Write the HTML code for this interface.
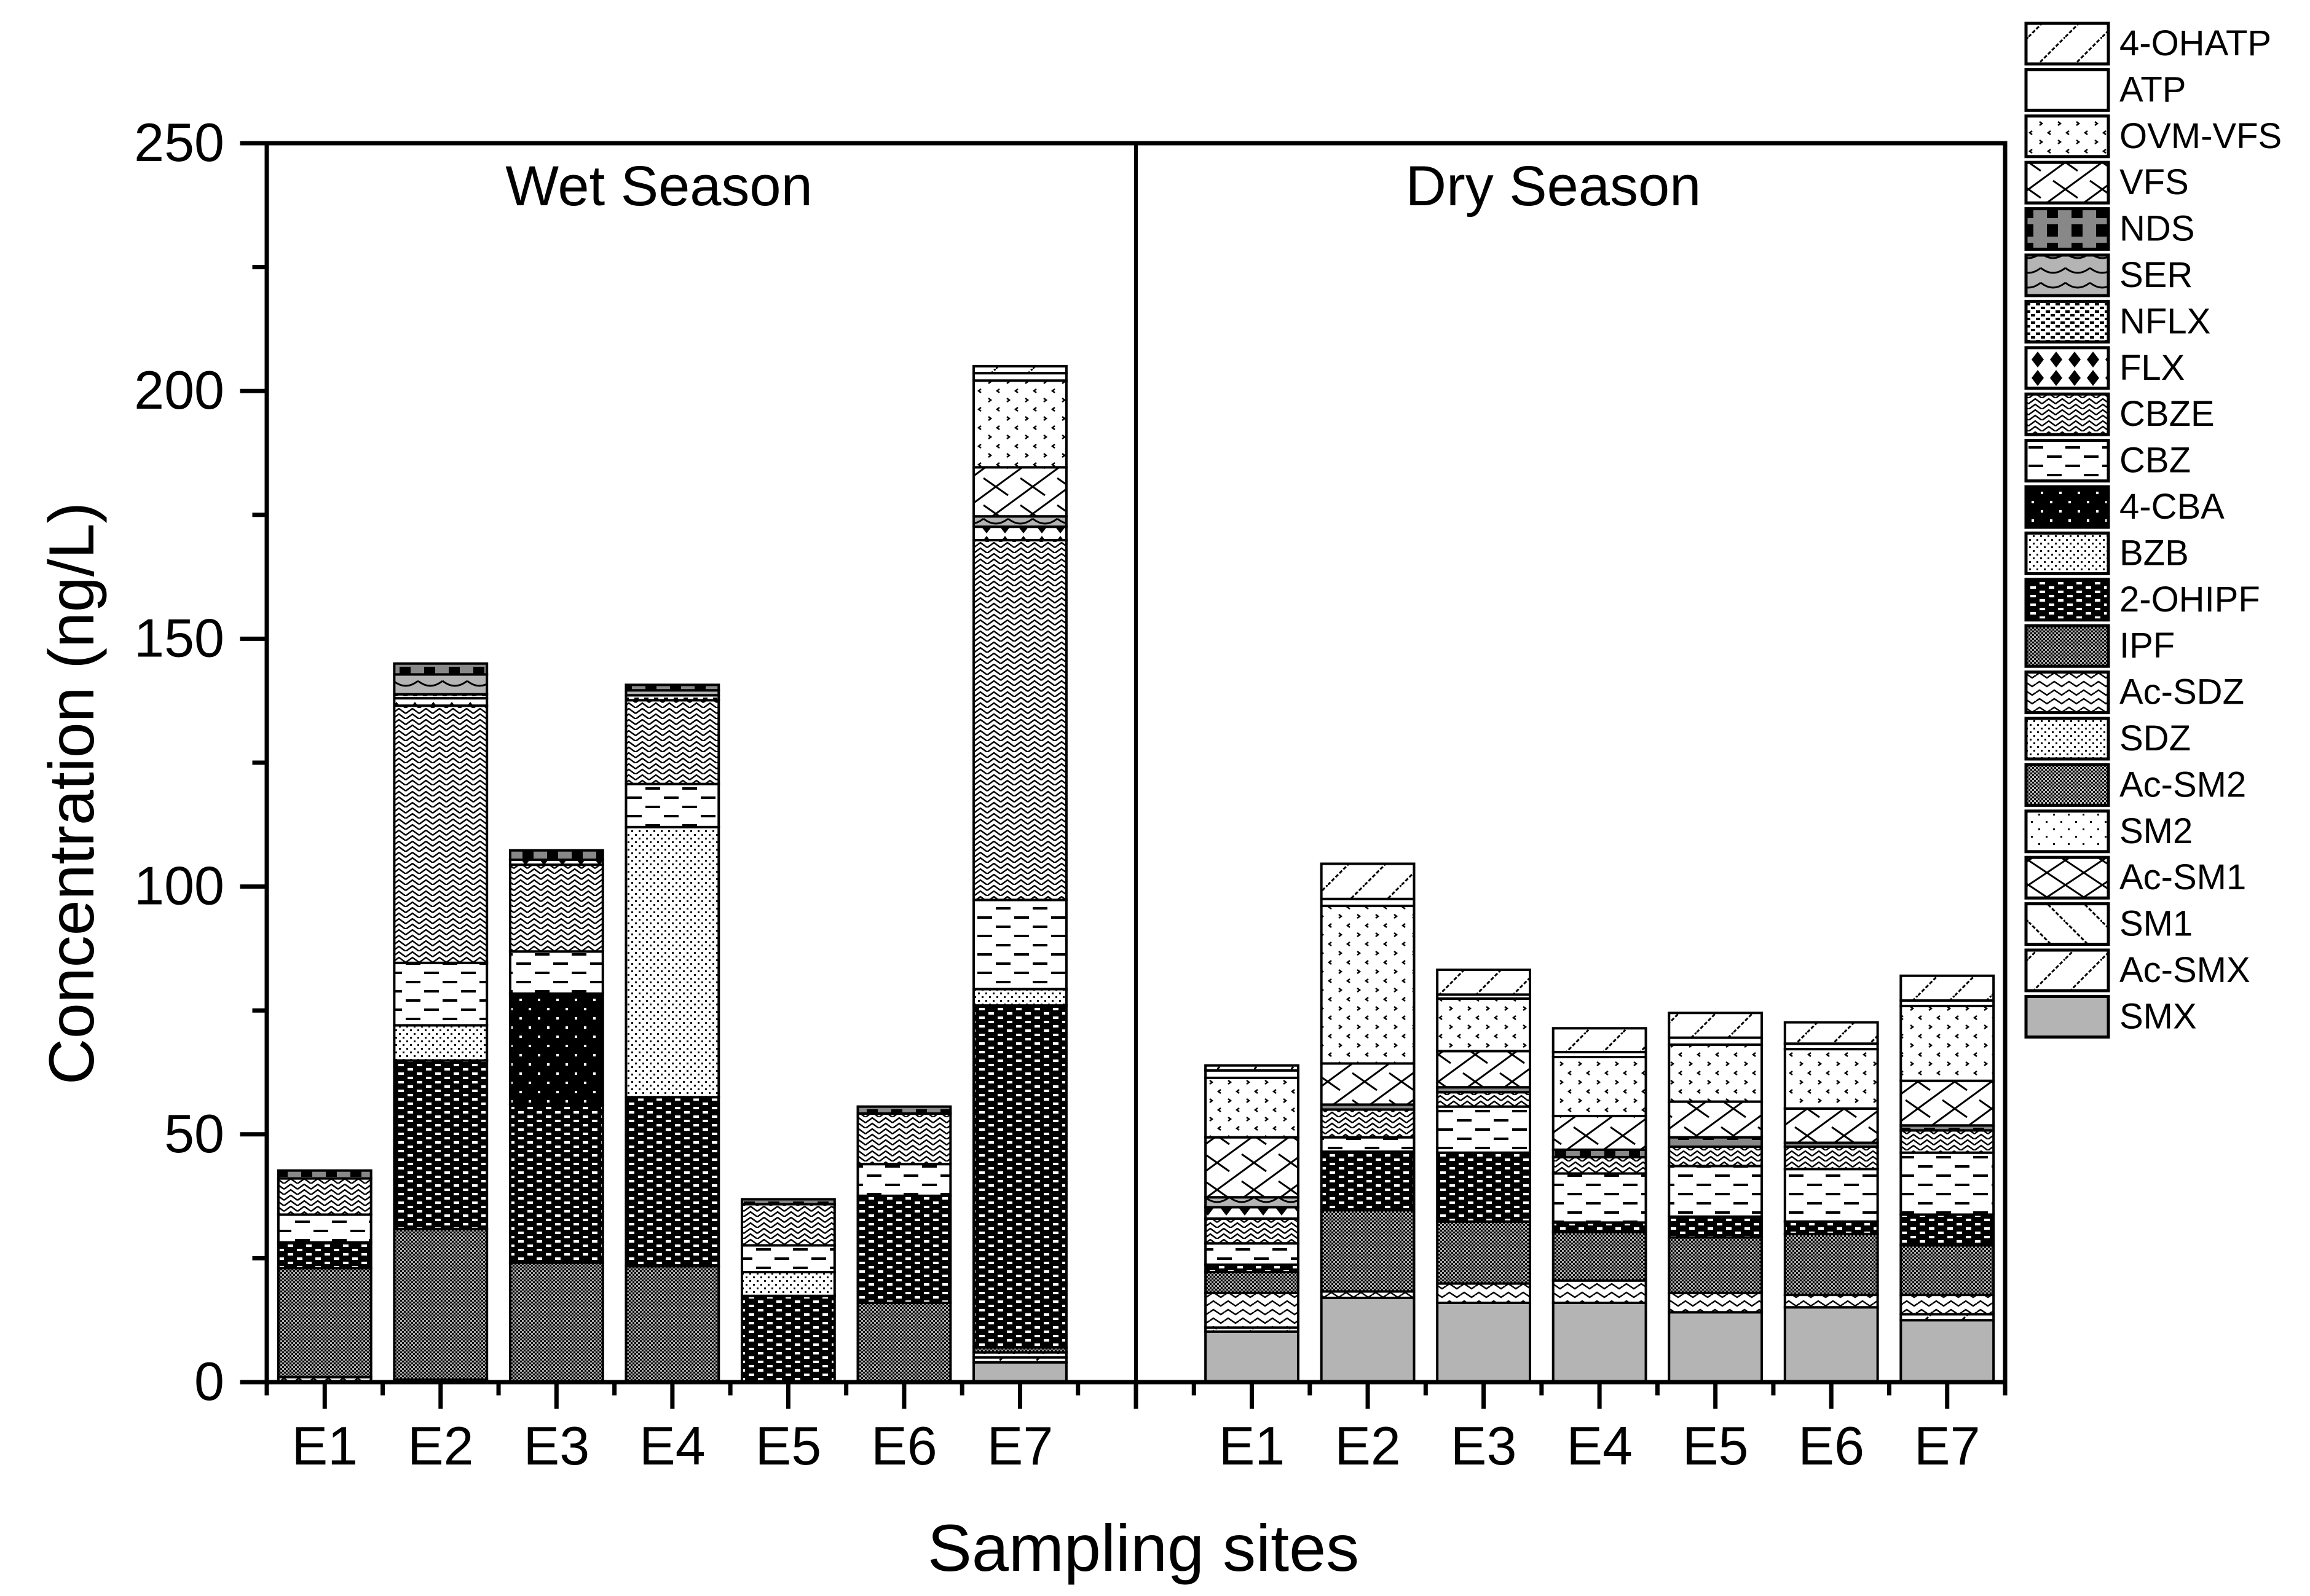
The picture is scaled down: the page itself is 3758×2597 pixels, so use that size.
<!DOCTYPE html>
<html><head><meta charset="utf-8"><style>
html,body{margin:0;padding:0;background:#fff;}
svg{display:block;font-family:"Liberation Sans",Arial,sans-serif;}
</style></head><body>
<svg id="chart" width="3758" height="2597" viewBox="0 0 3758 2597" xmlns="http://www.w3.org/2000/svg">
<defs>
<pattern id="p-SMX" width="10" height="10" patternUnits="userSpaceOnUse"><rect width="10" height="10" fill="#b4b4b4"/></pattern>
<pattern id="p-AcSMX" width="60" height="60" patternUnits="userSpaceOnUse"><rect width="60" height="60" fill="#fff"/><path d="M0 60 L60 0" stroke="#000" stroke-width="3" stroke-dasharray="6 3"/></pattern>
<pattern id="p-SM1" width="60" height="60" patternUnits="userSpaceOnUse"><rect width="60" height="60" fill="#fff"/><path d="M0 0 L60 60" stroke="#000" stroke-width="3" stroke-dasharray="6 3"/></pattern>
<pattern id="p-AcSM1" width="60" height="40" patternUnits="userSpaceOnUse"><rect width="60" height="40" fill="#fff"/><path d="M0 0 L60 40 M0 40 L60 0" stroke="#000" stroke-width="3"/></pattern>
<pattern id="p-SM2" width="24" height="24" patternUnits="userSpaceOnUse"><rect width="24" height="24" fill="#fff"/><rect x="4" y="4" width="3" height="3" fill="#000"/><rect x="16" y="16" width="3" height="3" fill="#000"/></pattern>
<pattern id="p-AcSM2" width="6" height="6" patternUnits="userSpaceOnUse"><rect width="6" height="6" fill="#bbb"/><rect width="3" height="3" fill="#000"/><rect x="3" y="3" width="3" height="3" fill="#000"/></pattern>
<pattern id="p-SDZ" width="12" height="12" patternUnits="userSpaceOnUse"><rect width="12" height="12" fill="#fff"/><rect x="2" y="2" width="3" height="3" fill="#000"/><rect x="8" y="8" width="3" height="3" fill="#000"/></pattern>
<pattern id="p-AcSDZ" width="24" height="14" patternUnits="userSpaceOnUse"><rect width="24" height="14" fill="#fff"/><path d="M0 7 L6 3 L12 7 L18 11 L24 7" fill="none" stroke="#000" stroke-width="2.5"/></pattern>
<pattern id="p-IPF" width="6" height="6" patternUnits="userSpaceOnUse"><rect width="6" height="6" fill="#aaa"/><rect width="3" height="3" fill="#000"/><rect x="3" y="3" width="3" height="3" fill="#000"/></pattern>
<pattern id="p-OHIPF" width="30" height="14" patternUnits="userSpaceOnUse"><rect width="30" height="14" fill="#000"/><rect x="3" y="2" width="9" height="4" fill="#fff"/><rect x="18" y="9" width="9" height="4" fill="#fff"/></pattern>
<pattern id="p-BZB" width="12" height="12" patternUnits="userSpaceOnUse"><rect width="12" height="12" fill="#fff"/><rect x="1" y="1" width="3" height="3" fill="#000"/><rect x="7" y="7" width="3" height="3" fill="#000"/></pattern>
<pattern id="p-CBA" width="30" height="30" patternUnits="userSpaceOnUse"><rect width="30" height="30" fill="#000"/><rect x="5" y="5" width="4" height="4" fill="#fff"/><rect x="20" y="20" width="4" height="4" fill="#fff"/></pattern>
<pattern id="p-CBZ" width="60" height="30" patternUnits="userSpaceOnUse"><rect width="60" height="30" fill="#fff"/><rect x="0" y="6" width="24" height="4" fill="#000"/><rect x="30" y="21" width="24" height="4" fill="#000"/></pattern>
<pattern id="p-CBZE" width="22" height="18" patternUnits="userSpaceOnUse"><rect width="22" height="18" fill="#fff"/><path d="M0 9 L11 1 L22 9 M0 18 L11 10 L22 18" fill="none" stroke="#000" stroke-width="2.5"/></pattern>
<pattern id="p-FLX" width="30" height="30" patternUnits="userSpaceOnUse"><rect width="30" height="30" fill="#fff"/><path d="M15 2 L25 15 L15 28 L5 15Z" fill="#000"/></pattern>
<pattern id="p-NFLX" width="16" height="12" patternUnits="userSpaceOnUse"><rect width="16" height="12" fill="#fff"/><rect x="0" y="1" width="7" height="4" fill="#000"/><rect x="8" y="7" width="7" height="4" fill="#000"/></pattern>
<pattern id="p-SER" width="40" height="24" patternUnits="userSpaceOnUse"><rect width="40" height="24" fill="#b4b4b4"/><path d="M0 4 Q20 20 40 4" fill="none" stroke="#000" stroke-width="3"/></pattern>
<pattern id="p-NDS" width="40" height="30" patternUnits="userSpaceOnUse"><rect width="40" height="30" fill="#888"/><rect x="10" y="5" width="18" height="20" fill="#000"/></pattern>
<pattern id="p-VFS" width="60" height="44" patternUnits="userSpaceOnUse"><rect width="60" height="44" fill="#fff"/><path d="M0 44 L60 0 M0 0 L20 14 M40 30 L60 44" stroke="#000" stroke-width="3"/></pattern>
<pattern id="p-OVMVFS" width="30" height="30" patternUnits="userSpaceOnUse"><rect width="30" height="30" fill="#fff"/><path d="M6 3 L2 6 L6 9" fill="none" stroke="#000" stroke-width="2.5"/><path d="M18 18 L22 21 L18 24" fill="none" stroke="#000" stroke-width="2.5"/></pattern>
<pattern id="p-ATP" width="10" height="10" patternUnits="userSpaceOnUse"><rect width="10" height="10" fill="#fff"/></pattern>
<pattern id="p-OHATP" width="60" height="60" patternUnits="userSpaceOnUse"><rect width="60" height="60" fill="#fff"/><path d="M0 60 L60 0" stroke="#000" stroke-width="3" stroke-dasharray="6 3"/></pattern>
</defs>
<g id="bars"></g>
<g id="axes"></g>
<g id="legend"></g>
<text x="1072" y="334" font-size="92" text-anchor="middle">Wet Season</text>
<text x="2527" y="334" font-size="92" text-anchor="middle">Dry Season</text>
<text transform="translate(152,1291) rotate(-90)" font-size="104" text-anchor="middle">Concentration (ng/L)</text>
<text x="1860" y="2556" font-size="108" text-anchor="middle">Sampling sites</text>
</svg>
<script>
// Category labels (wet E1..E7 at index 0..6, dry E1..E7 at index 8..14)
const categories = ["E1","E2","E3","E4","E5","E6","E7","E1","E2","E3","E4","E5","E6","E7"];
const catIndex = [0,1,2,3,4,5,6,8,9,10,11,12,13,14];
const compounds = ["SMX","Ac-SMX","SM1","Ac-SM1","SM2","Ac-SM2","SDZ","Ac-SDZ","IPF","2-OHIPF","BZB","4-CBA","CBZ","CBZE","FLX","NFLX","SER","NDS","VFS","OVM-VFS","ATP","4-OHATP"];
const patternIds = ["SMX","AcSMX","SM1","AcSM1","SM2","AcSM2","SDZ","AcSDZ","IPF","OHIPF","BZB","CBA","CBZ","CBZE","FLX","NFLX","SER","NDS","VFS","OVMVFS","ATP","OHATP"];
const yTicks = [0,50,100,150,200,250];
// series values, ng/L: wet E1..E7, dry E1..E7
const vSMX    = [0,0.5,0,0,0,0,4,      10.2,17,16,16,14.1,15.1,12.5];
const vAcSMX  = [0,0,0,0,0,0,1,        0.8,0,0,0,0,0,1.2];
const vSM1    = [0,0,0,0,0,0,0,        0,0,0,0,0,0,0];
const vAcSM1  = [0,0,0,0,0,0,0,        0,0,0,0,0,0,0];
const vSM2    = [0,0,0,0,0,0,1,        0,0,0,0,0,0,0];
const vAcSM2  = [0,0,0,0,0,0,0,        0,0,0,0,0,0,0];
const vSDZ    = [0,0,0,0,0,0,0,        0,0,0,0,0,0,0];
const vAcSDZ  = [1,0,0,0,0,0,0,        7,1.3,3.9,4.5,3.9,2.5,3.9];
const vIPF    = [22,30.4,24.1,23.4,0,16,1, 4.2,16.4,12.5,9.8,11.2,12.3,10];
const vOHIPF  = [5.2,34,31.9,34.1,17.4,21.6,69, 1.5,11.8,13.9,1.9,4.2,2.5,6.2];
const vBZB    = [0,7.1,0,54.5,4.8,0,3.3, 0,0,0,0,0,0,0];
const vCBA    = [0,0,22.4,0,0,0,0,     0,0,0,0,0,0,0];
const vCBZ    = [5.6,12.6,8.5,8.7,5.4,6.4,18, 4.3,2.9,9.3,9.9,10.2,10.6,12.5];
const vCBZE   = [7.3,51.9,17.5,16.9,8.3,10.2,72.6, 5,5.6,2.9,3.3,3.9,4.5,4.5];
const vFLX    = [0,1.5,1,0,0,0,2.7,    2.3,0,0,0,0,0,0];
const vNFLX   = [0,0.8,0,1,0,0,0,      0,0,0,0,0,0,0];
const vSER    = [0,4,0,1,0,0,2.1,      2,0,0,0,0,0,0];
const vNDS    = [1.6,2.2,1.9,1.1,1,1.4,0, 0,1,1,1.5,1.9,0.8,1];
const vVFS    = [0,0,0,0,0,0,9.9,      12.1,8.3,7.3,6.8,7.2,6.9,9];
const vOVMVFS = [0,0,0,0,0,0,17.5,     12,31.8,10.6,11.9,11.5,12,15.1];
const vATP    = [0,0,0,0,0,0,1.5,      1.5,1.4,0.8,1,1.4,1.1,1.1];
const vOHATP  = [0,0,0,0,0,0,1.4,      1,7.1,5,4.8,5,4.3,5];
const series = [vSMX,vAcSMX,vSM1,vAcSM1,vSM2,vAcSM2,vSDZ,vAcSDZ,vIPF,vOHIPF,vBZB,vCBA,vCBZ,vCBZE,vFLX,vNFLX,vSER,vNDS,vVFS,vOVMVFS,vATP,vOHATP];

const NS = "http://www.w3.org/2000/svg";
const X0 = 434, X1 = 3262, Y0 = 2249, Y1 = 233;
function xScale(i){ return X0 + (i + 0.5) / 15 * (X1 - X0); }
function yScale(v){ return Y0 - v / 250 * (Y0 - Y1); }
const bandW = (X1 - X0) / 15, barW = bandW * 0.8;
function mk(tag, attrs, parent){ const e = document.createElementNS(NS, tag); for (const k in attrs) e.setAttribute(k, attrs[k]); parent.appendChild(e); return e; }

const gBars = document.getElementById("bars");
for (let c = 0; c < categories.length; c++) {
  let base = 0;
  const cx = xScale(catIndex[c]);
  for (let s = 0; s < series.length; s++) {
    const v = series[s][c];
    if (!v) continue;
    const yTop = yScale(base + v), yBot = yScale(base);
    const r = mk("rect", {x: cx - barW/2, y: yTop, width: barW, height: yBot - yTop, fill: "url(#p-" + patternIds[s] + ")", stroke: "#000", "stroke-width": 4}, gBars);
    
    
    base += v;
  }
}

const gAx = document.getElementById("axes");
function line(x1,y1,x2,y2,w,name){ const l = mk("line",{x1:x1,y1:y1,x2:x2,y2:y2,stroke:"#000","stroke-width":w,"stroke-linecap":"square"},gAx);
  
   return l; }
line(X0,Y1,X1,Y1,7,"top-border");
line(X1,Y1,X1,Y0,7,"right-border");
line(X0,Y1,X0,Y0,7,"y-axis-line");
line(X0,Y0,X1,Y0,7,"x-axis-line");
line(xScale(7),Y1,xScale(7),Y0,6,"season-divider");
for (const t of yTicks) {
  line(X0-40,yScale(t),X0,yScale(t),7,"y-tick");
  const tx = mk("text",{x:365,y:yScale(t)+29,"font-size":88,"text-anchor":"end"},gAx);
  tx.textContent = t;
  
  
  if (t < 250) line(X0-20,yScale(t+25),X0,yScale(t+25),7,"y-minor-tick");
}
for (let i = 0; i <= 14; i++) {
  line(xScale(i),Y0,xScale(i),Y0+40,7,"x-tick");
  line(xScale(i)-bandW/2,Y0,xScale(i)-bandW/2,Y0+18,7,"x-minor-tick");
}
line(X1,Y0,X1,Y0+18,7,"x-minor-tick");
for (let c = 0; c < categories.length; c++) {
  const tx = mk("text",{x:xScale(catIndex[c]),y:2383,"font-size":88,"text-anchor":"middle"},gAx);
  tx.textContent = categories[c];
  
  
}

const gLeg = document.getElementById("legend");
for (let i = 0; i < compounds.length; i++) {
  const s = compounds.length - 1 - i;
  const top = 38 + i * 75.4;
  const r = mk("rect",{x:3296,y:top,width:134,height:66,fill:"url(#p-" + patternIds[s] + ")",stroke:"#000","stroke-width":5},gLeg);
  
  
  const t = mk("text",{x:3448,y:top+52,"font-size":58},gLeg);
  t.textContent = compounds[s];
  
  
}
</script>
</body></html>
